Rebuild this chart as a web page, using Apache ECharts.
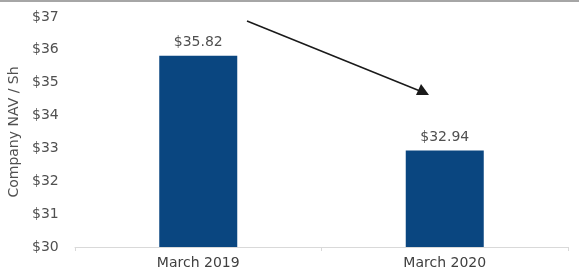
<!DOCTYPE html>
<html>
<head>
<meta charset="utf-8">
<script src="https://cdn.jsdelivr.net/npm/echarts@6/dist/echarts.min.js"></script>
<style>
  html, body { margin: 0; padding: 0; background: #fff; }
  #main { width: 579px; height: 280px; }
</style>
</head>
<body>
<div id="main"></div>
<script>
// data
var categories = ['March 2019', 'March 2020'];
var navValues = [35.82, 32.94];
var yTicks = [30, 37, 1]; // min, max, step

var myChart = echarts.init(document.getElementById('main'));
var txt = '#505050';
var font = 'DejaVu Sans';

var option = {
    animation: false,
    grid: { left: 75, right: 11, top: 17, bottom: 33, outerBoundsMode: 'none', containLabel: false },
    xAxis: {
        type: 'category',
        data: categories,
        axisLine: { lineStyle: { color: '#d9d9d9', width: 1 } },
        axisTick: { show: true, length: 4, lineStyle: { color: '#d9d9d9' } },
        axisLabel: { color: '#404040', fontSize: 14, fontFamily: font, margin: 9 }
    },
    yAxis: {
        type: 'value',
        min: yTicks[0],
        max: yTicks[1],
        interval: yTicks[2],
        name: 'Company NAV / Sh',
        nameLocation: 'middle',
        nameGap: 44,
        nameTextStyle: { color: txt, fontSize: 14, fontFamily: font },
        axisLine: { show: false },
        axisTick: { show: false },
        splitLine: { show: false },
        axisLabel: {
            color: txt, fontSize: 14, fontFamily: font, margin: 43, align: 'left',
            formatter: function (v) { return '$' + v; }
        }
    },
    series: [{
        type: 'bar',
        data: navValues,
        barWidth: 78,
        itemStyle: { color: '#0a4680' },
        label: {
            show: true, position: 'top', distance: 6,
            color: txt, fontSize: 14, fontFamily: font,
            formatter: function (p) { return '$' + p.value.toFixed(2); }
        }
    }],
    graphic: [
        { type: 'rect', shape: { x: 0, y: 0, width: 579, height: 2 }, style: { fill: '#a6a6a6' } },
        {
            type: 'line',
            shape: { x1: 247, y1: 21, x2: 420, y2: 91 },
            style: { stroke: '#1a1a1a', lineWidth: 1.5 }
        },
        {
            type: 'polygon',
            shape: { points: [[429, 95], [416, 95], [421, 84]] },
            style: { fill: '#1a1a1a' }
        }
    ]
};
myChart.setOption(option);
</script>
</body>
</html>
